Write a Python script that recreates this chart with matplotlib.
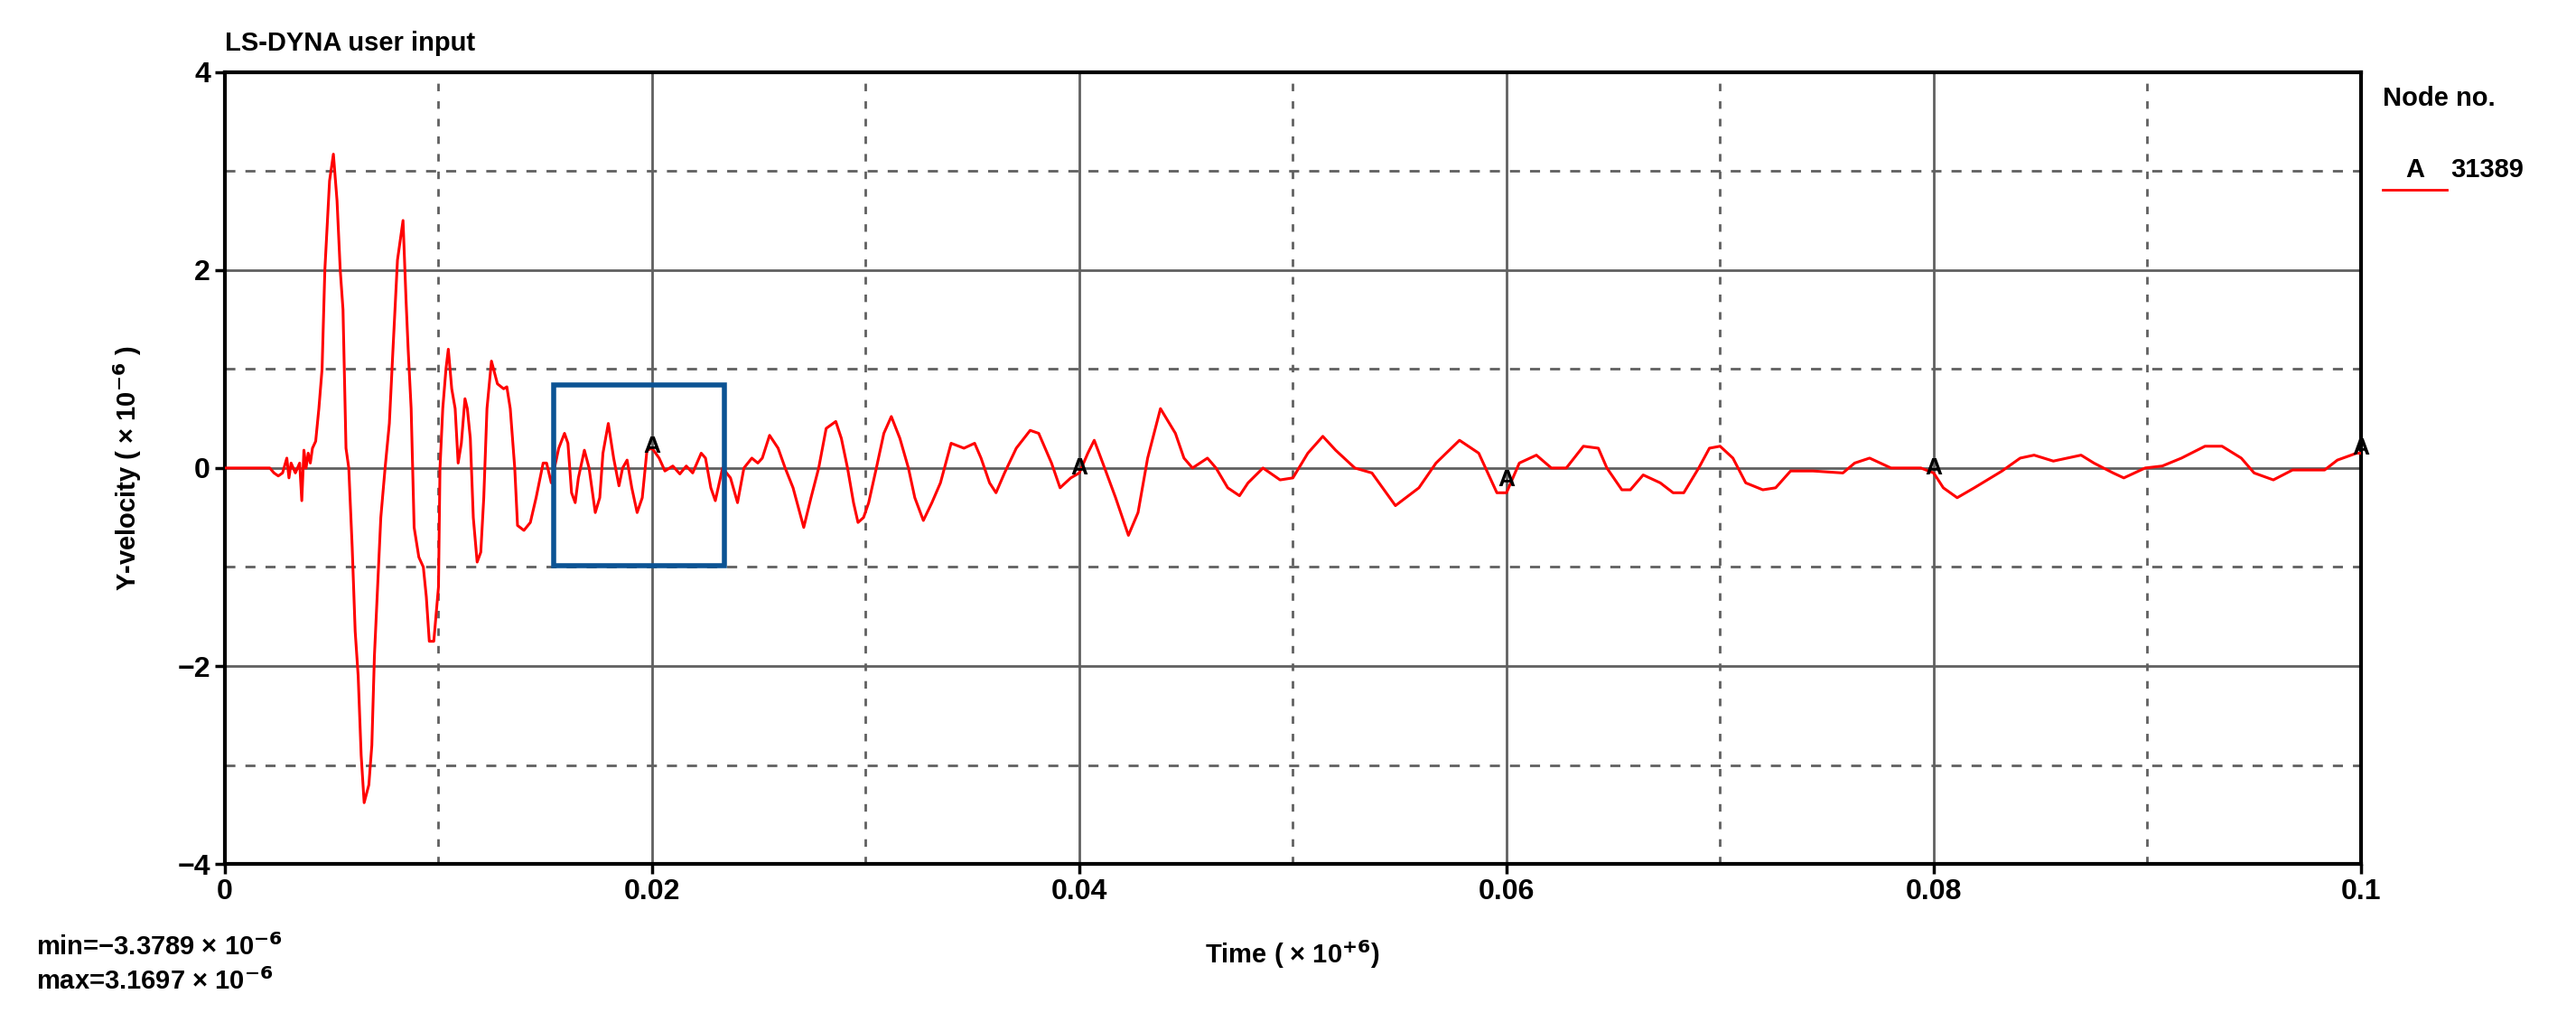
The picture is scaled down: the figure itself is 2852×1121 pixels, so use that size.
import matplotlib
matplotlib.use("Agg")
import matplotlib.pyplot as plt
import numpy as np

plt.rcParams['font.family'] = ['Liberation Sans', 'DejaVu Sans']
plt.rcParams['font.weight'] = 'bold'

# time in ms (x 1e-3 of axis units), y velocity (x 1e-6)
t_ms = [0, 2.1, 2.3, 2.5, 2.7, 2.9, 3.0, 3.1, 3.3, 3.5, 3.6, 3.7, 3.8, 3.9, 4.0, 4.1, 4.25,
        4.4, 4.55, 4.68, 4.9, 5.08, 5.25, 5.4, 5.53, 5.67, 5.8, 5.96, 6.1, 6.24, 6.38, 6.52, 6.74,
        6.88, 7.0, 7.15, 7.3, 7.5, 7.7, 7.87, 8.08, 8.34, 8.48, 8.58, 8.72, 8.86, 9.08, 9.29, 9.43,
        9.57, 9.78, 10.0, 10.07, 10.2, 10.35, 10.46, 10.62, 10.78, 10.92, 11.07, 11.24, 11.35, 11.49,
        11.63, 11.81, 11.98, 12.12, 12.27, 12.48, 12.76, 13.05, 13.2, 13.36, 13.57, 13.7, 14.0, 14.3,
        14.57, 14.9, 15.06, 15.28, 15.63, 15.9, 16.06, 16.23, 16.4, 16.55, 16.83, 17.05, 17.34, 17.55,
        17.7, 17.95, 18.2, 18.45, 18.62, 18.83, 19.05, 19.3, 19.54, 19.76, 20.0, 20.33, 20.6, 20.97,
        21.3, 21.6, 21.9, 22.3, 22.5, 22.75, 22.96, 23.3, 23.67, 24.0, 24.3, 24.67, 24.95, 25.16,
        25.5, 25.9, 26.23, 26.6, 27.1, 27.44, 27.8, 28.15, 28.6, 28.86, 29.15, 29.43, 29.64, 29.9,
        30.14, 30.5, 30.85, 31.2, 31.6, 32.0, 32.3, 32.7, 33.1, 33.5, 34.0, 34.6, 35.1, 35.4,
        35.8, 36.1, 36.5, 37.05, 37.7, 38.1, 38.7, 39.1, 39.6, 40.0, 40.4, 40.7, 41.1, 41.7, 42.3,
        42.75, 43.2, 43.8, 44.5, 44.9, 45.3, 46.0, 46.4, 46.95, 47.5, 47.9, 48.6, 49.4, 50.0, 50.7,
        51.4, 52.0, 52.9, 53.7, 54.8, 55.9, 56.7, 57.8, 58.7, 59.55, 60.0, 60.6, 61.4, 62.1, 62.8,
        63.6, 64.3, 64.7, 65.4, 65.8, 66.4, 67.2, 67.8, 68.3, 69.0, 69.5, 70.0, 70.6, 71.2, 72.0,
        72.6, 73.3, 74.35, 75.75, 76.3, 77.0, 78.0, 79.4, 80.0, 80.45, 81.1, 81.9, 83.2, 84.05, 84.7,
        85.6, 86.9, 87.5, 88.4, 88.9, 89.9, 90.7, 91.6, 92.7, 93.5, 94.4, 95.0, 95.9, 96.8, 98.3,
        98.9, 99.8, 100.0]
vel = [0, 0, -0.05, -0.08, -0.05, 0.1, -0.1, 0.05, -0.05, 0.05, -0.33, 0.18, 0.0, 0.15, 0.05, 0.2, 0.27,
       0.6, 1.0, 2.0, 2.9, 3.17, 2.7, 2.0, 1.6, 0.2, 0.0, -0.8, -1.65, -2.1, -2.9, -3.38, -3.2,
       -2.8, -1.9, -1.2, -0.5, 0.0, 0.45, 1.2, 2.1, 2.5, 1.7, 1.2, 0.6, -0.6, -0.9, -1.0, -1.3,
       -1.75, -1.75, -1.2, 0.0, 0.6, 1.0, 1.2, 0.8, 0.6, 0.05, 0.25, 0.7, 0.6, 0.3,
       -0.5, -0.95, -0.85, -0.3, 0.6, 1.08, 0.85, 0.8, 0.82, 0.6, 0.0, -0.58, -0.63, -0.55,
       -0.3, 0.05, 0.05, -0.15, 0.2, 0.35, 0.25, -0.25, -0.35, -0.1, 0.18, 0.0, -0.45, -0.3,
       0.15, 0.45, 0.1, -0.18, 0.0, 0.08, -0.2, -0.45, -0.3, 0.18, 0.2, 0.1, -0.03, 0.02,
       -0.06, 0.02, -0.05, 0.15, 0.1, -0.2, -0.33, 0.0, -0.1, -0.35, 0.0, 0.1, 0.05, 0.1,
       0.33, 0.2, 0.0, -0.2, -0.6, -0.3, 0.0, 0.4, 0.47, 0.3, 0.0, -0.35, -0.55, -0.5,
       -0.35, 0.0, 0.35, 0.52, 0.3, 0.0, -0.3, -0.53, -0.35, -0.15, 0.25, 0.2, 0.25, 0.1,
       -0.15, -0.25, -0.05, 0.2, 0.38, 0.35, 0.05, -0.2, -0.1, -0.05, 0.15, 0.28, 0.05, -0.3, -0.68,
       -0.45, 0.1, 0.6, 0.35, 0.1, 0.0, 0.1, 0.0, -0.2, -0.28, -0.15, 0.0, -0.12, -0.1, 0.15,
       0.32, 0.18, 0.0, -0.05, -0.38, -0.2, 0.05, 0.28, 0.15, -0.25, -0.25, 0.05, 0.13, 0.0, 0.0,
       0.22, 0.2, 0.0, -0.22, -0.22, -0.07, -0.15, -0.25, -0.25, 0.0, 0.2, 0.22, 0.1, -0.15, -0.22,
       -0.2, -0.03, -0.03, -0.05, 0.05, 0.1, 0.0, 0.0, -0.05, -0.2, -0.3, -0.2, -0.03, 0.1, 0.13,
       0.07, 0.13, 0.05, -0.05, -0.1, 0.0, 0.02, 0.1, 0.22, 0.22, 0.1, -0.05, -0.12, -0.02, -0.02,
       0.08, 0.15, 0.15]

marker_t_ms = [20, 40, 60, 80, 100]
marker_v = [0.22, 0.0, -0.12, 0.0, 0.2]

x_ticks = [0, 0.02, 0.04, 0.06, 0.08, 0.1]
x_tick_labels = ['0', '0.02', '0.04', '0.06', '0.08', '0.1']
y_ticks = [-4, -2, 0, 2, 4]
y_tick_labels = ['\u22124', '\u22122', '0', '2', '4']

box_t = (0.0154, 0.0234)
box_v = (-0.985, 0.84)

t = np.array(t_ms) / 1000.0
v = np.array(vel)

fig = plt.figure(figsize=(28.52, 11.21), dpi=100)
ax = fig.add_axes([0.0873, 0.147, 0.8292, 0.782])

ax.set_xlim(0, 0.1)
ax.set_ylim(-4, 4)
for xv in np.arange(0.01, 0.1, 0.02):
    ax.axvline(xv, color='#606060', lw=2, ls=(0, (3, 4)), zorder=1)
for xv in [0.02, 0.04, 0.06, 0.08]:
    ax.axvline(xv, color='#606060', lw=2, zorder=1)
for yv in [-3, -1, 1, 3]:
    ax.axhline(yv, color='#606060', lw=2, ls=(0, (4, 4)), zorder=1)
for yv in [-2, 0, 2]:
    ax.axhline(yv, color='#606060', lw=2, zorder=1)

ax.plot(t, v, color='red', lw=2.2, zorder=3)
for mt, mv in zip(marker_t_ms, marker_v):
    ax.text(mt / 1000.0, mv, 'A', fontsize=19, fontweight='bold', ha='center', va='center', zorder=4)

ax.add_patch(plt.Rectangle((box_t[0], box_v[0]), box_t[1] - box_t[0], box_v[1] - box_v[0],
                           fill=False, edgecolor='#0b5394', lw=4, zorder=5))

ax.set_xticks(x_ticks)
ax.set_xticklabels(x_tick_labels)
ax.set_yticks(y_ticks)
ax.set_yticklabels(y_tick_labels)
ax.tick_params(labelsize=23, width=2.5, length=8, direction='out')
for lab in ax.get_xticklabels() + ax.get_yticklabels():
    lab.set_fontweight('bold')
for s in ax.spines.values():
    s.set_linewidth(3)
    s.set_color('black')

ax.set_xlabel('Time ( \u00d7 10$^{+6}$)', fontsize=21, fontweight='bold', labelpad=26)
ax.yaxis.set_label_coords(-0.038, 0.5)
ax.set_ylabel('Y-velocity ( \u00d7 10$^{-6}$ )', fontsize=21, fontweight='bold')

fig.text(0.0873, 0.945, 'LS-DYNA user input', fontsize=21, fontweight='bold', ha='left', va='bottom')
fig.text(0.925, 0.903, 'Node no.', fontsize=21, fontweight='bold', ha='left', va='center')
fig.text(0.9375, 0.832, 'A', fontsize=21, fontweight='bold', ha='center', va='center')
fig.lines.append(plt.Line2D([0.925, 0.950], [0.813, 0.813], color='red', lw=2, transform=fig.transFigure))
fig.text(0.9515, 0.832, '31389', fontsize=21, fontweight='bold', ha='left', va='center')

fig.text(0.014, 0.065, 'min=\u22123.3789 \u00d7 10$^{-6}$', fontsize=21, fontweight='bold', ha='left', va='center')
fig.text(0.014, 0.031, 'max=3.1697 \u00d7 10$^{-6}$', fontsize=21, fontweight='bold', ha='left', va='center')

fig.savefig('out.png', dpi=100)
